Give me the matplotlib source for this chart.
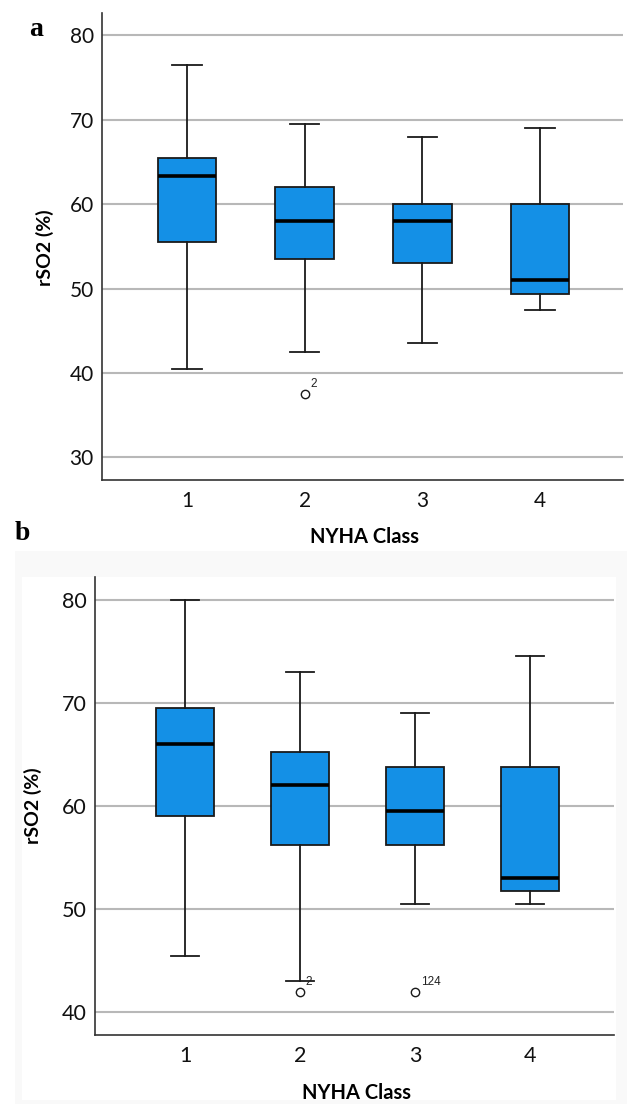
import matplotlib
matplotlib.use("Agg")
import matplotlib.pyplot as plt
from matplotlib.patches import Rectangle

# ---------------- data ----------------
classes = ["1", "2", "3", "4"]

# Panel a
a_whislo = [40.5, 42.5, 43.5, 47.5]
a_q1     = [55.5, 53.5, 53.0, 49.3]
a_med    = [63.3, 58.0, 58.0, 51.0]
a_q3     = [65.5, 62.0, 60.0, 60.0]
a_whishi = [76.5, 69.5, 68.0, 69.0]
a_fliers = [[], [37.5], [], []]
a_flier_labels = [[], ["2"], [], []]

# Panel b
b_whislo = [45.5, 43.0, 50.5, 50.5]
b_q1     = [59.0, 56.25, 56.25, 51.75]
b_med    = [66.0, 62.0, 59.5, 53.0]
b_q3     = [69.5, 65.25, 63.75, 63.75]
b_whishi = [80.0, 73.0, 69.0, 74.5]
b_fliers = [[], [42.0], [42.0], []]
b_flier_labels = [[], ["2"], ["124"], []]

yticks_a = [30, 40, 50, 60, 70, 80]
yticks_b = [40, 50, 60, 70, 80]

xlabel = "NYHA Class"
ylabel = "rSO2 (%)"

# ---------------- style ----------------
BOX_COLOR = "#1490e6"
EDGE = "#1a1a1a"
GRID = "#b8b8b8"
FONT = "Lato"

fig = plt.figure(figsize=(6.27, 11.04), dpi=100)

# subtle background panels around panel b (as in reference)
fig.patches.append(Rectangle((15/627, 0), 1 - 15/627, 1 - 551/1104,
                             transform=fig.transFigure, facecolor="#f9f9f9",
                             edgecolor="none", zorder=-20))
fig.patches.append(Rectangle((22/627, 0.004), (616-22)/627, 1 - 577/1104 - 0.004,
                             transform=fig.transFigure, facecolor="white",
                             edgecolor="none", zorder=-19))


def draw_panel(ax, whislo, q1, med, q3, whishi, fliers, flabels, yticks, ylim, xlim,
               tick_fs):
    stats = []
    for i in range(len(classes)):
        stats.append(dict(whislo=whislo[i], q1=q1[i], med=med[i], q3=q3[i],
                          whishi=whishi[i], fliers=fliers[i], label=classes[i]))
    positions = list(range(1, len(classes) + 1))
    ax.bxp(stats, positions=positions, widths=0.5, capwidths=0.25,
           patch_artist=True, showfliers=True,
           boxprops=dict(facecolor=BOX_COLOR, edgecolor=EDGE, linewidth=1.3),
           medianprops=dict(color="black", linewidth=2.6),
           whiskerprops=dict(color=EDGE, linewidth=1.3),
           capprops=dict(color=EDGE, linewidth=1.3),
           flierprops=dict(marker="o", markerfacecolor="white",
                           markeredgecolor=EDGE, markersize=6, markeredgewidth=1.0),
           zorder=3)
    for i, (fl, lb) in enumerate(zip(fliers, flabels)):
        for v, t in zip(fl, lb):
            ax.annotate(t, xy=(positions[i], v), xytext=(4, 3),
                        textcoords="offset points", fontsize=8.5,
                        family="Liberation Sans", color="#222222",
                        ha="left", va="bottom", zorder=4)
    ax.set_xlim(*xlim)
    ax.set_ylim(*ylim)
    ax.set_yticks(yticks)
    ax.set_xticks(positions)
    ax.set_xticklabels(classes)
    ax.yaxis.grid(True, color=GRID, linewidth=1.5, zorder=0)
    ax.set_axisbelow(True)
    for s in ["top", "right"]:
        ax.spines[s].set_visible(False)
    for s in ["left", "bottom"]:
        ax.spines[s].set_color("#333333")
        ax.spines[s].set_linewidth(1.2)
    ax.tick_params(axis="both", length=0, labelsize=tick_fs, colors="#111111")
    ax.tick_params(axis="y", pad=6)
    ax.tick_params(axis="x", pad=8)
    for lab in ax.get_xticklabels() + ax.get_yticklabels():
        lab.set_family(FONT)
    ax.set_facecolor("none")


# Panel a
ax_a = fig.add_axes([102/627, 1 - 480/1104, (623-102)/627, (480-12.7)/1104])
draw_panel(ax_a, a_whislo, a_q1, a_med, a_q3, a_whishi, a_fliers, a_flier_labels,
           yticks_a, (27.3, 82.7), (0.278, 4.705), 15)

# Panel b
ax_b = fig.add_axes([95/627, 1 - 1035/1104, (614-95)/627, (1035-577)/1104])
draw_panel(ax_b, b_whislo, b_q1, b_med, b_q3, b_whishi, b_fliers, b_flier_labels,
           yticks_b, (37.8, 82.2), (0.217, 4.73), 15.5)

# axis labels
fig.text(365/627, 1 - 537/1104, xlabel, ha="center", va="center",
         fontsize=14.5, fontweight="bold", family=FONT)
fig.text(356/627, 1 - 1093/1104, xlabel, ha="center", va="center",
         fontsize=14.5, fontweight="bold", family=FONT)
fig.text(45/627, 1 - 248/1104, ylabel, ha="center", va="center", rotation=90,
         fontsize=14, fontweight="bold", family=FONT)
fig.text(33/627, 1 - 806/1104, ylabel, ha="center", va="center", rotation=90,
         fontsize=14, fontweight="bold", family=FONT)

# panel letters
fig.text(36/627, 1 - 30/1104, "a", ha="center", va="center",
         fontsize=20, fontweight="bold", family="Liberation Serif")
fig.text(22/627, 1 - 533/1104, "b", ha="center", va="center",
         fontsize=20, fontweight="bold", family="Liberation Serif")

fig.savefig("out.png", dpi=100)
